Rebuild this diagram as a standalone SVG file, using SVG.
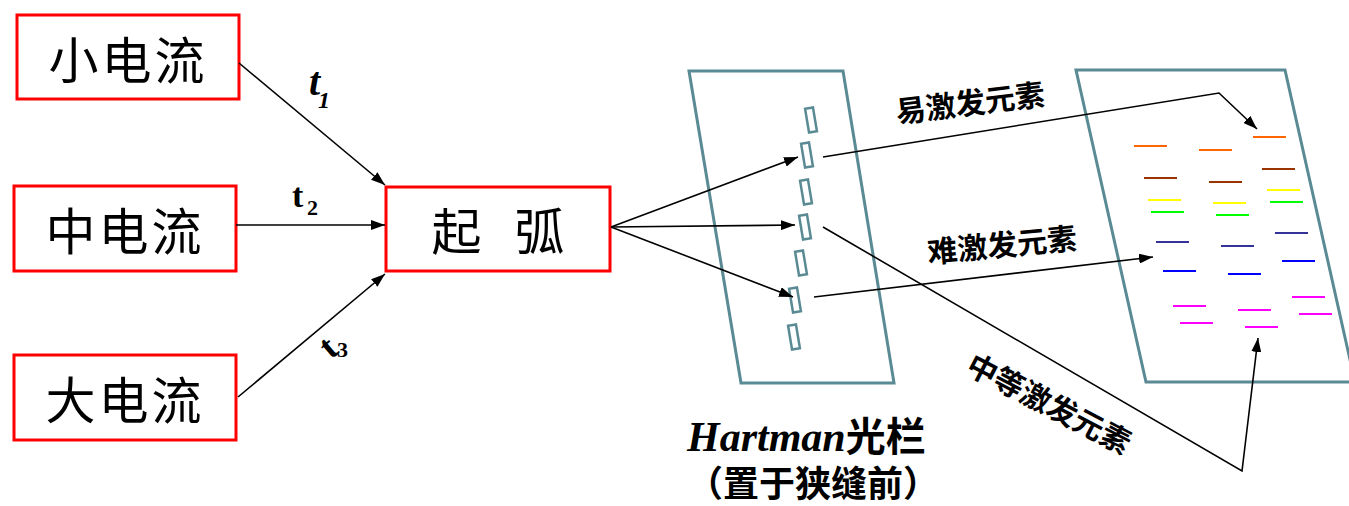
<svg xmlns="http://www.w3.org/2000/svg" width="1349" height="506" viewBox="0 0 1349 506">
<style>
.box{fill:#fff;stroke:#ff0000;stroke-width:3}
.lbl{font-family:"Noto Sans CJK SC",sans-serif;font-size:50px;fill:#000;text-anchor:middle;dominant-baseline:central}
.conn{stroke:#000;stroke-width:1.6;fill:none}
.panel{fill:none;stroke:#5a8a93;stroke-width:3}
.slit{fill:#fff;stroke:#5a8a93;stroke-width:2.5}
.tt{font-family:"Liberation Serif",serif;font-weight:bold;fill:#000}
.cj{font-family:"Noto Sans CJK SC",sans-serif;font-weight:bold;font-size:30px;fill:#000;text-anchor:middle;dominant-baseline:central}
.sp{stroke-width:2}
</style>
<defs>
<marker id="ah" viewBox="0 0 14 10" refX="14" refY="5" markerWidth="14" markerHeight="10" orient="auto" markerUnits="userSpaceOnUse">
<path d="M0,0 L14,5 L0,10 z" fill="#000"/>
</marker>
</defs>
<rect width="1349" height="506" fill="#fff"/>

<g id="n-small">
<rect class="box" x="17" y="15" width="222" height="84"/>
<text class="lbl" x="128" y="57" letter-spacing="3">小电流</text>
</g>
<g id="n-mid">
<rect class="box" x="14" y="186" width="222" height="85"/>
<text class="lbl" x="125" y="228" letter-spacing="3">中电流</text>
</g>
<g id="n-large">
<rect class="box" x="14" y="355" width="222" height="85"/>
<text class="lbl" x="125" y="397" letter-spacing="3">大电流</text>
</g>
<g id="n-arc">
<rect class="box" x="386" y="187" width="224" height="84"/>
<text class="lbl" x="498" y="228" word-spacing="22">起 弧</text>
</g>

<g id="n-hartman">
<polygon class="panel" points="689,71 843,71 894,383 741,383"/>
<rect class="slit" x="-4" y="-12" width="8" height="24" transform="translate(811,120) rotate(-9.5)"/>
<rect class="slit" x="-4" y="-12" width="8" height="24" transform="translate(807,155) rotate(-9.5)"/>
<rect class="slit" x="-4" y="-12" width="8" height="24" transform="translate(806,192) rotate(-9.5)"/>
<rect class="slit" x="-4" y="-12" width="8" height="24" transform="translate(805,227) rotate(-9.5)"/>
<rect class="slit" x="-4" y="-12" width="8" height="24" transform="translate(801,263) rotate(-9.5)"/>
<rect class="slit" x="-4" y="-12" width="8" height="24" transform="translate(795,300) rotate(-9.5)"/>
<rect class="slit" x="-4" y="-12" width="8" height="24" transform="translate(794,337) rotate(-9.5)"/>
<text x="687" y="451"><tspan class="tt" font-style="italic" font-size="42">Hartman</tspan><tspan font-family="Noto Sans CJK SC, sans-serif" font-weight="bold" font-size="40">光栏</tspan></text>
<text x="813" y="481" font-family="Noto Sans CJK SC, sans-serif" font-weight="bold" font-size="36" text-anchor="middle" dominant-baseline="central">（置于狭缝前）</text>
</g>

<g id="n-plate">
<polygon class="panel" points="1076,70 1285,70 1355,382 1146,382"/>
<g class="sp">
<line x1="1134" y1="146" x2="1167" y2="146" stroke="#ff6600"/>
<line x1="1199" y1="150" x2="1232" y2="150" stroke="#ff6600"/>
<line x1="1253" y1="137" x2="1286" y2="137" stroke="#ff6600"/>
<line x1="1144" y1="178" x2="1177" y2="178" stroke="#993300"/>
<line x1="1209" y1="182" x2="1242" y2="182" stroke="#993300"/>
<line x1="1262" y1="169" x2="1295" y2="169" stroke="#993300"/>
<line x1="1148" y1="200" x2="1181" y2="200" stroke="#ffff00"/>
<line x1="1213" y1="203" x2="1246" y2="203" stroke="#ffff00"/>
<line x1="1267" y1="190" x2="1300" y2="190" stroke="#ffff00"/>
<line x1="1151" y1="212" x2="1184" y2="212" stroke="#00ff00"/>
<line x1="1216" y1="215" x2="1249" y2="215" stroke="#00ff00"/>
<line x1="1270" y1="202" x2="1303" y2="202" stroke="#00ff00"/>
<line x1="1156" y1="242" x2="1189" y2="242" stroke="#333399"/>
<line x1="1221" y1="246" x2="1254" y2="246" stroke="#333399"/>
<line x1="1275" y1="233" x2="1308" y2="233" stroke="#333399"/>
<line x1="1163" y1="271" x2="1196" y2="271" stroke="#0000ff"/>
<line x1="1228" y1="274" x2="1261" y2="274" stroke="#0000ff"/>
<line x1="1282" y1="261" x2="1315" y2="261" stroke="#0000ff"/>
<line x1="1173" y1="306" x2="1206" y2="306" stroke="#ff00ff"/>
<line x1="1180" y1="323" x2="1213" y2="323" stroke="#ff00ff"/>
<line x1="1238" y1="310" x2="1271" y2="310" stroke="#ff00ff"/>
<line x1="1245" y1="327" x2="1278" y2="327" stroke="#ff00ff"/>
<line x1="1292" y1="297" x2="1325" y2="297" stroke="#ff00ff"/>
<line x1="1299" y1="314" x2="1332" y2="314" stroke="#ff00ff"/>
</g>
</g>

<g id="connectors">
<line class="conn" x1="239" y1="63" x2="385" y2="185" marker-end="url(#ah)"/>
<line class="conn" x1="236" y1="225" x2="385" y2="225" marker-end="url(#ah)"/>
<line class="conn" x1="238" y1="397" x2="385" y2="274" marker-end="url(#ah)"/>
<line class="conn" x1="611" y1="227" x2="798" y2="157" marker-end="url(#ah)"/>
<line class="conn" x1="611" y1="227" x2="795" y2="225" marker-end="url(#ah)"/>
<line class="conn" x1="611" y1="227" x2="793" y2="297" marker-end="url(#ah)"/>
<polyline class="conn" points="823,157 1219,93 1257,129" marker-end="url(#ah)"/>
<polyline class="conn" points="823,227 1242,471 1258,338" marker-end="url(#ah)"/>
<line class="conn" x1="814" y1="297" x2="1153" y2="257" marker-end="url(#ah)"/>
<text class="tt" font-style="italic" font-size="40" x="309" y="95">t</text>
<text class="tt" font-style="italic" font-size="24" x="318" y="108">1</text>
<text class="tt" font-size="34" x="292" y="207">t</text>
<text class="tt" font-size="22" x="307" y="215">2</text>
<text class="tt" font-size="36" transform="translate(328,347) rotate(-40)" text-anchor="middle" dominant-baseline="central">t</text>
<text class="tt" font-size="22" x="337" y="357">3</text>
<text class="cj" transform="translate(970,101) rotate(-7)">易激发元素</text>
<text class="cj" transform="translate(1002,243) rotate(-5.5)">难激发元素</text>
<text class="cj" transform="translate(1050,402) rotate(27.5)">中等激发元素</text>
</g>
</svg>
